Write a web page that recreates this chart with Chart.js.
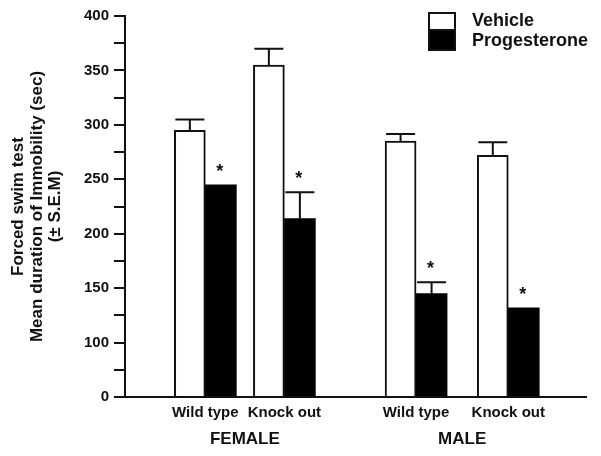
<!DOCTYPE html>
<html>
<head>
<meta charset="utf-8">
<script src="https://cdn.jsdelivr.net/npm/chart.js@4/dist/chart.umd.min.js"></script>
<style>
  html, body { margin: 0; padding: 0; background: #fff; }
  #wrap { width: 601px; height: 456px; position: relative; }
</style>
</head>
<body>
<div id="wrap"><canvas id="c" width="601" height="456"></canvas></div>
<script>
// ---- data ----
const subgroupLabels = ['Wild type', 'Knock out', 'Wild type', 'Knock out'];
const sexLabels = ['FEMALE', 'MALE'];
const seriesNames = ['Vehicle', 'Progesterone'];
const vehicleMean = [295, 355, 285, 272];
const vehicleSem = [10, 15, 6.5, 12];
const progesteroneMean = [245, 214, 145, 132];
const progesteroneSem = [0, 24, 10.5, 0];
const progesteroneSignificant = [true, true, true, true];
const yTickLabels = ['0', '', '100', '', '150', '', '200', '', '250', '', '300', '', '350', '', '400'];
const yTitleLines = ['Forced swim test', 'Mean duration of Immobility (sec)', '(\u00B1 S.E.M)'];

// ---- layout (scale units, not data) ----
const subgroupPos = [6.1, 12.1, 22.1, 29.1];
const sexPos = [(subgroupPos[0] + subgroupPos[1]) / 2, (subgroupPos[2] + subgroupPos[3]) / 2];
const yFloor = 50, yCeil = 400, yStep = 25;
const FONT = "'Liberation Sans', Arial, Helvetica, sans-serif";
const INK = '#111';

const toPoints = (vals) => vals.map((v, i) => ({ x: subgroupPos[i], y: v }));

const errorBarPlugin = {
  id: 'errorBars',
  afterDatasetsDraw(chart) {
    const ctx = chart.ctx;
    const yScale = chart.scales.y;
    const sems = [vehicleSem, progesteroneSem];
    const sigs = [null, progesteroneSignificant];
    chart.data.datasets.forEach((ds, di) => {
      const meta = chart.getDatasetMeta(di);
      meta.data.forEach((bar, i) => {
        const val = ds.data[i].y;
        const sem = sems[di][i];
        const yTop = yScale.getPixelForValue(val);
        const yCap = yScale.getPixelForValue(val + sem);
        const half = bar.width / 2 - 1;
        ctx.save();
        ctx.strokeStyle = INK;
        ctx.lineWidth = 2;
        if (sem > 0) {
          ctx.beginPath();
          ctx.moveTo(bar.x, yTop);
          ctx.lineTo(bar.x, yCap);
          ctx.moveTo(bar.x - half, yCap);
          ctx.lineTo(bar.x + half, yCap);
          ctx.stroke();
        }
        if (sigs[di] && sigs[di][i]) {
          ctx.fillStyle = INK;
          ctx.font = 'bold 18px ' + FONT;
          ctx.textAlign = 'center';
          ctx.textBaseline = 'middle';
          ctx.fillText('*', bar.x - 1, Math.min(yTop, yCap) - 13);
        }
        ctx.restore();
      });
    });
  }
};

const legendPlugin = {
  id: 'boxLegend',
  afterDraw(chart) {
    const ctx = chart.ctx;
    const bx = 428, by = 12, bw = 28, bh = [18, 21];
    const textX = 472;
    let y = by;
    ctx.save();
    chart.data.datasets.forEach((ds, i) => {
      ctx.fillStyle = ds.backgroundColor;
      ctx.fillRect(bx, y, bw, bh[i]);
      ctx.strokeStyle = INK;
      ctx.lineWidth = 2;
      ctx.strokeRect(bx + 1, y + (i === 0 ? 1 : 0), bw - 2, bh[i] - 1);
      ctx.fillStyle = INK;
      ctx.font = 'bold 18px ' + FONT;
      ctx.textAlign = 'left';
      ctx.textBaseline = 'middle';
      ctx.fillText(ds.label, textX, y + bh[i] / 2 + 0.5);
      y += bh[i];
    });
    ctx.restore();
  }
};

new Chart(document.getElementById('c'), {
  type: 'bar',
  data: {
    datasets: [
      {
        label: seriesNames[0],
        data: toPoints(vehicleMean),
        backgroundColor: '#ffffff',
        borderColor: INK,
        borderWidth: 2,
        base: yFloor,
        barThickness: 31
      },
      {
        label: seriesNames[1],
        data: toPoints(progesteroneMean),
        backgroundColor: '#000000',
        borderColor: '#000000',
        borderWidth: 0,
        base: yFloor,
        barThickness: 31
      }
    ]
  },
  options: {
    responsive: false,
    animation: false,
    events: [],
    layout: { padding: { top: 16, right: 15, bottom: 0, left: 0 } },
    plugins: { legend: { display: false }, tooltip: { enabled: false } },
    scales: {
      x: {
        type: 'linear',
        offset: false,
        min: 0,
        max: 35,
        grid: { display: false, drawTicks: false, offset: false },
        border: { display: true, color: INK, width: 2 },
        afterBuildTicks(scale) {
          scale.ticks = subgroupPos.concat(sexPos).map(v => ({ value: v }));
        },
        afterFit(scale) { scale.height = 59; },
        ticks: {
          autoSkip: false,
          maxRotation: 0,
          padding: 7,
          color: INK,
          font: (c) => (c.index >= subgroupPos.length)
            ? { family: FONT, size: 17, weight: 'bold', lineHeight: 1.4 }
            : { family: FONT, size: 15, weight: 'bold', lineHeight: 1.2 },
          callback: (v, i) => i < subgroupLabels.length ? subgroupLabels[i] : ['', sexLabels[i - subgroupLabels.length]]
        }
      },
      y: {
        type: 'linear',
        min: yFloor,
        max: yCeil,
        afterFit(scale) { scale.width = 125; },
        grid: {
          drawOnChartArea: false,
          drawTicks: true,
          tickLength: 11,
          tickColor: INK,
          lineWidth: 2
        },
        border: { display: true, color: INK, width: 2 },
        ticks: {
          stepSize: yStep,
          padding: 5,
          color: INK,
          font: { family: FONT, size: 15, weight: 'bold' },
          callback: (v, i) => yTickLabels[i]
        },
        title: {
          display: true,
          text: yTitleLines,
          color: INK,
          font: { family: FONT, size: 17, weight: 'bold', lineHeight: 1.1 },
          padding: { top: 9, bottom: 0 }
        }
      }
    }
  },
  plugins: [errorBarPlugin, legendPlugin]
});
</script>
</body>
</html>
